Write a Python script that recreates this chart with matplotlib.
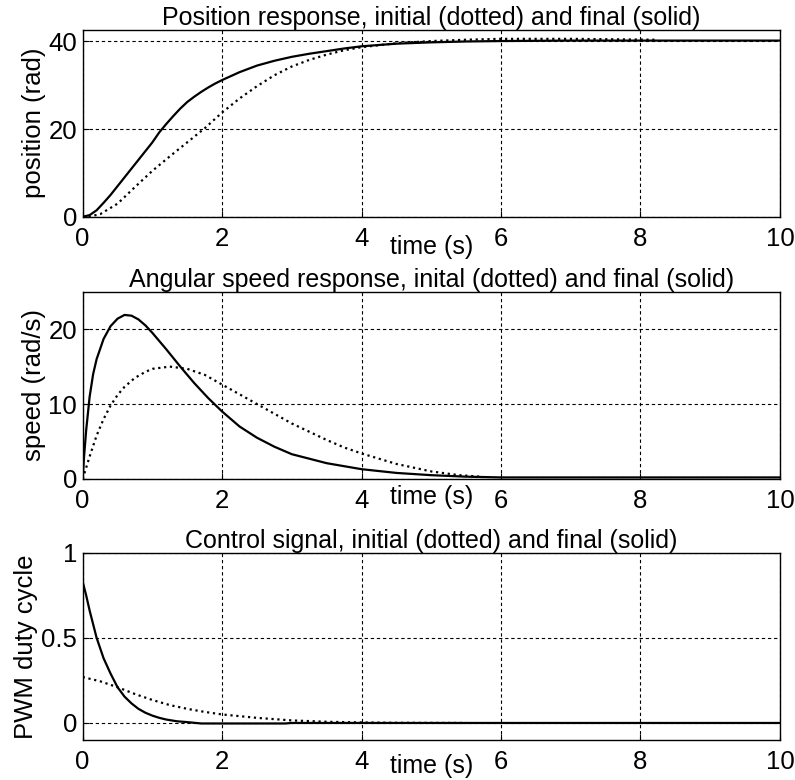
import matplotlib
matplotlib.use("Agg")
import matplotlib.pyplot as plt

plt.rcParams['font.family'] = ['Liberation Sans', 'DejaVu Sans']

# position response (rad)
t_pos_final = [0, 0.1, 0.2, 0.3, 0.4, 0.5, 0.6, 0.7, 0.8, 0.9, 1.0, 1.1, 1.2, 1.3, 1.4,
               1.5, 1.6, 1.7, 1.8, 1.9, 2.0, 2.25, 2.5, 2.75, 3.0, 3.25, 3.5, 3.75, 4.0,
               4.5, 5.0, 5.5, 6.0, 7.0, 8.0, 10.0]
pos_final = [0, 0.4, 1.5, 3.2, 5.0, 7.0, 9.0, 11.0, 13.0, 15.0, 17.0, 19.3, 21.2, 23.0, 24.7,
             26.2, 27.4, 28.5, 29.5, 30.4, 31.2, 33.0, 34.5, 35.6, 36.5, 37.2, 37.8, 38.4, 38.9,
             39.5, 39.8, 40.0, 40.1, 40.2, 40.2, 40.2]
t_pos_init = [0, 0.1, 0.25, 0.5, 0.75, 1.0, 1.25, 1.5, 1.75, 2.0, 2.25, 2.5, 2.75, 3.0,
              3.25, 3.5, 3.75, 4.0, 4.5, 5.0, 5.5, 6.0, 7.0, 8.2]
pos_init = [0, 0.1, 0.6, 3.0, 6.8, 10.5, 13.8, 17.0, 20.2, 23.8, 27.0, 29.8, 32.3, 34.3,
            35.8, 37.0, 38.0, 38.7, 39.6, 40.1, 40.4, 40.6, 40.6, 40.4]

# angular speed response (rad/s)
t_spd_final = [0, 0.02, 0.05, 0.1, 0.15, 0.2, 0.3, 0.4, 0.5, 0.6, 0.7, 0.8, 0.9, 1.0, 1.2,
               1.4, 1.6, 1.8, 2.0, 2.25, 2.5, 2.75, 3.0, 3.5, 4.0, 4.5, 5.0, 5.5, 6.0, 10.0]
spd_final = [0, 3.0, 6.5, 11.0, 14.0, 16.0, 18.7, 20.4, 21.4, 21.9, 21.8, 21.3, 20.5, 19.5,
             17.3, 15.0, 12.8, 10.8, 9.0, 7.0, 5.5, 4.3, 3.3, 2.1, 1.3, 0.8, 0.5, 0.3, 0.2, 0.2]
t_spd_init = [0, 0.05, 0.1, 0.2, 0.3, 0.4, 0.5, 0.6, 0.75, 0.9, 1.0, 1.25, 1.5, 1.75, 2.0,
              2.25, 2.5, 2.75, 3.0, 3.25, 3.5, 3.75, 4.0, 4.5, 5.0, 5.4, 5.7]
spd_init = [0, 1.5, 3.0, 5.8, 8.0, 9.8, 11.2, 12.3, 13.5, 14.3, 14.7, 15.0, 14.7, 13.9, 12.6,
            11.3, 10.0, 8.7, 7.4, 6.3, 5.2, 4.2, 3.4, 2.0, 1.0, 0.5, 0.3]

# control signal (PWM duty cycle)
t_u_final = [0, 0.05, 0.1, 0.15, 0.2, 0.3, 0.4, 0.5, 0.6, 0.7, 0.8, 0.9, 1.0, 1.1, 1.2,
             1.35, 1.5, 1.7, 2.0, 2.9, 3.0, 4.0, 10.0]
u_final = [0.83, 0.75, 0.66, 0.58, 0.50, 0.38, 0.29, 0.21, 0.155, 0.115, 0.083, 0.06, 0.043,
           0.03, 0.02, 0.01, 0.005, -0.003, -0.003, -0.003, 0.0, 0.0, 0.0]
t_u_init = [0, 0.25, 0.5, 0.75, 1.0, 1.25, 1.5, 1.75, 2.0, 2.5, 3.0, 3.5, 4.0, 4.5, 5.5]
u_init = [0.27, 0.245, 0.21, 0.17, 0.135, 0.105, 0.083, 0.065, 0.05, 0.03, 0.015, 0.007,
          0.003, 0.001, 0.0]

fig = plt.figure(figsize=(7.95, 7.8), dpi=100)

L, W, H = 0.104, 0.877, 0.24
panels = [
    (0.722, t_pos_final, pos_final, t_pos_init, pos_init, (0, 42.7), [0, 20, 40],
     ['0', '20', '40'], 'position (rad)',
     'Position response, initial (dotted) and final (solid)', -0.095, 'top'),
    (0.386, t_spd_final, spd_final, t_spd_init, spd_init, (0, 25), [0, 10, 20],
     ['0', '10', '20'], 'speed (rad/s)',
     'Angular speed response, inital (dotted) and final (solid)', -0.035, 'top'),
    (0.0513, t_u_final, u_final, t_u_init, u_init, (-0.1, 1.0), [0, 0.5, 1],
     ['0', '0.5', '1'], 'PWM duty cycle',
     'Control signal, initial (dotted) and final (solid)', -0.205, 'bottom'),
]

for bottom, tf, yf, ti, yi, ylim, yt, ytl, ylab, title, xl_y, xl_va in panels:
    ax = fig.add_axes([L, bottom, W, H])
    ax.plot(ti, yi, color='black', linestyle=':', linewidth=1.6)
    ax.plot(tf, yf, color='black', linestyle='-', linewidth=1.6)
    ax.set_xlim(0, 10)
    ax.set_ylim(*ylim)
    ax.set_xticks([0, 2, 4, 6, 8, 10])
    ax.set_yticks(yt)
    ax.set_yticklabels(ytl)
    ax.grid(True, color='black', linestyle=(0, (3, 2.5)), linewidth=0.8)
    ax.tick_params(direction='in', length=4, labelsize=18.5, colors='black')
    ax.tick_params(axis='x', pad=7)
    ax.tick_params(axis='y', pad=4)
    for s in ax.spines.values():
        s.set_linewidth(1.0)
        s.set_color('black')
    ax.set_title(title, fontsize=18, pad=2)
    ax.set_ylabel(ylab, fontsize=18.5, labelpad=2)
    ax.set_xlabel('time (s)', fontsize=18, va=xl_va)
    ax.xaxis.set_label_coords(0.5, xl_y)

fig.savefig('out.png', dpi=100, facecolor='white')
